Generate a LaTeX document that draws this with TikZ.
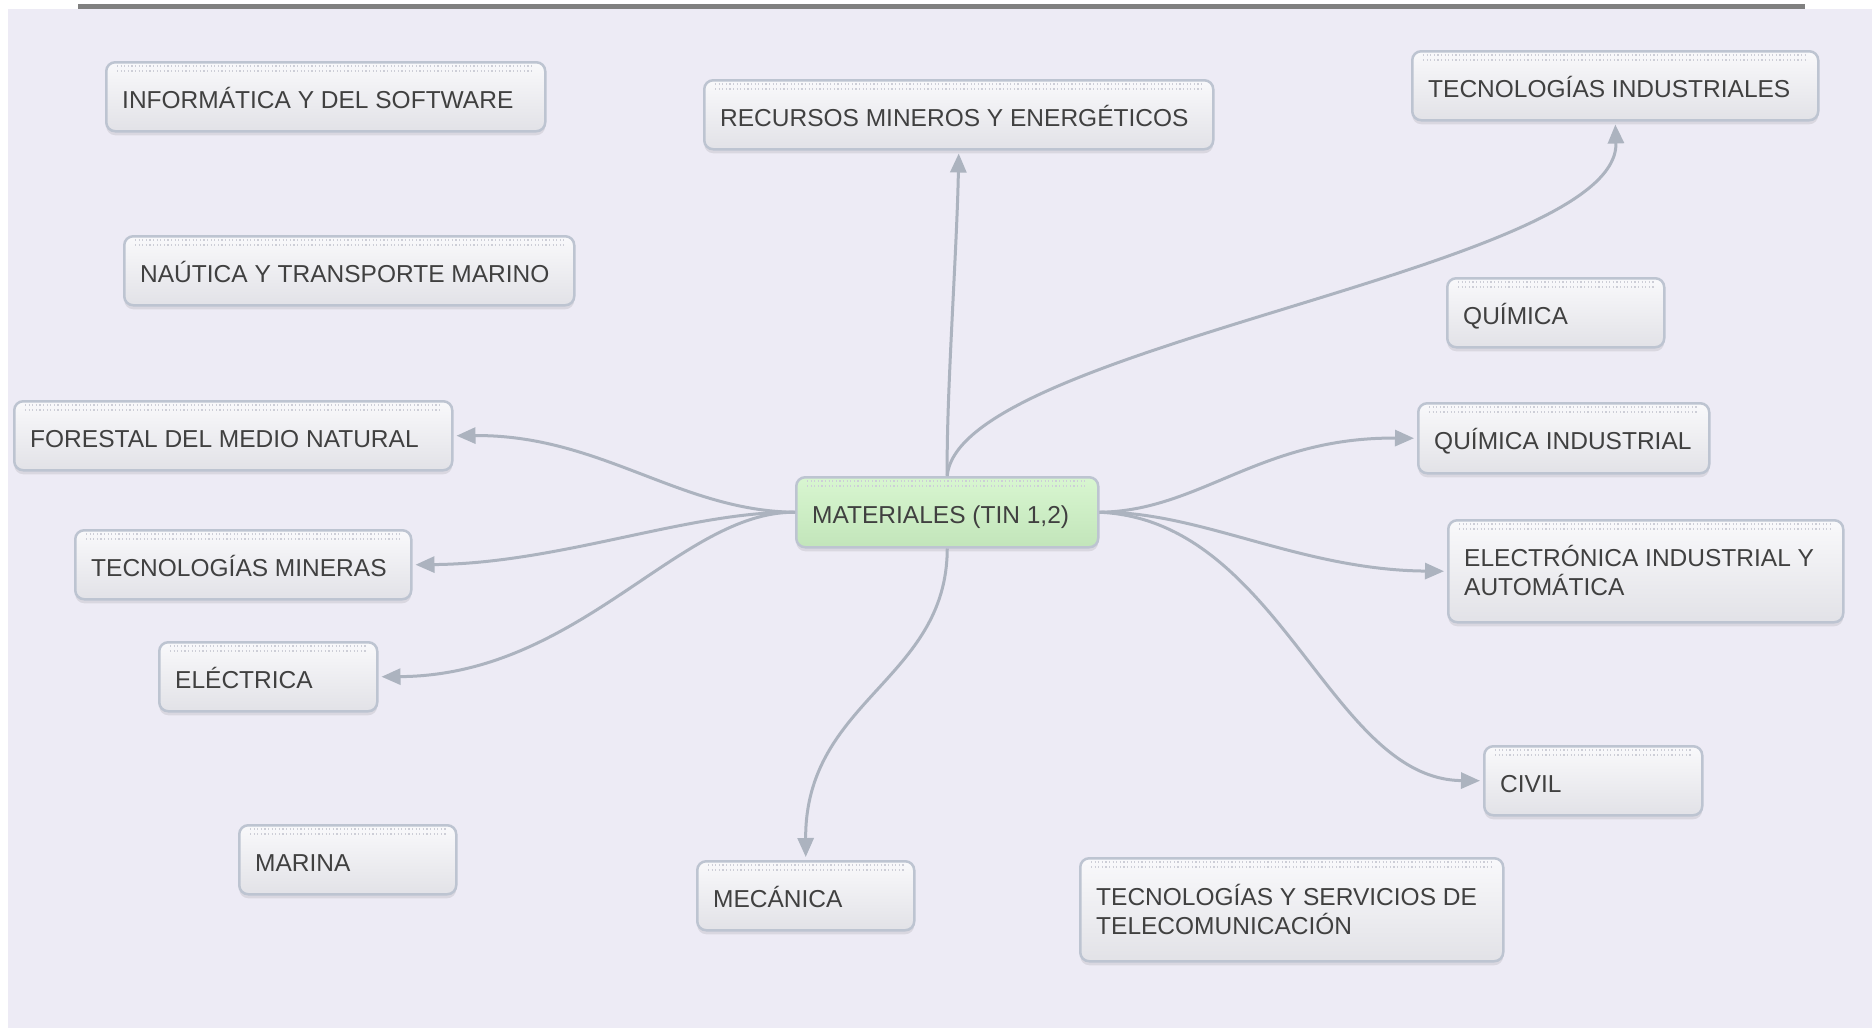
\documentclass[tikz,border=0pt]{standalone}
\usepackage{fontspec}
\setmainfont{Liberation Sans}
\usetikzlibrary{arrows.meta,shadows,calc}
\definecolor{bgc}{HTML}{EDEBF5}
\definecolor{edg}{HTML}{ACB3BF}
\definecolor{brd}{HTML}{BDC4D1}
\definecolor{boxtop}{HTML}{F9F9FB}
\definecolor{boxbot}{HTML}{E2E2E7}
\definecolor{grtop}{HTML}{D8F6D0}
\definecolor{grbot}{HTML}{C2E5BA}
\definecolor{txt}{HTML}{404040}
\definecolor{dotc}{HTML}{CDCED7}
\definecolor{topbar}{HTML}{808080}
\tikzset{
  box/.style={draw=brd, line width=2.5pt, rounded corners=9pt, top color=boxtop, bottom color=boxbot,
    anchor=north west, inner sep=0pt,
    drop shadow={shadow xshift=0pt, shadow yshift=-4pt, opacity=0.12, fill=black!70}},
  matbox/.style={box, top color=grtop, bottom color=grbot},
  lbl/.style={anchor=base west, inner sep=0pt, text=txt, font=\fontsize{24.5}{29}\selectfont},
  conn/.style={draw=edg, line width=3pt, -{Triangle[length=19pt,width=16pt]}, shorten >=3pt},
  dots/.style={draw=dotc, line width=1.2pt, dash pattern=on 1.2pt off 2.4pt},
}
\newcommand\dotstrip[1]{%
  \draw[dots] ($(#1.north west)+(12,5)$) -- ($(#1.north east)+(-12,5)$);
  \draw[dots] ($(#1.north west)+(12,10)$) -- ($(#1.north east)+(-12,10)$);}
\begin{document}
\begin{tikzpicture}[x=1pt,y=-1pt]
\useasboundingbox (0,0) rectangle (1872,1028);
\fill[white] (0,0) rectangle (1872,1028);
\fill[bgc] (8,9) rectangle (1872,1028);
\fill[topbar] (78,4) rectangle (1805,9);

% boxes
\node[box, minimum width=439pt, minimum height=69pt] (inf) at (105,61) {};
\node[box, minimum width=509pt, minimum height=69pt] (rec) at (703,79) {};
\node[box, minimum width=406pt, minimum height=69pt] (tind) at (1411,50) {};
\node[box, minimum width=450pt, minimum height=69pt] (nau) at (123,235) {};
\node[box, minimum width=217pt, minimum height=69pt] (qui) at (1446,277) {};
\node[box, minimum width=438pt, minimum height=69pt] (for) at (13,400) {};
\node[box, minimum width=291pt, minimum height=70pt] (qind) at (1417,402) {};
\node[matbox, minimum width=302pt, minimum height=70pt] (mat) at (795,476) {};
\node[box, minimum width=336pt, minimum height=69pt] (tmin) at (74,529) {};
\node[box, minimum width=395pt, minimum height=102pt] (elec) at (1447,519) {};
\node[box, minimum width=218pt, minimum height=69pt] (ele) at (158,641) {};
\node[box, minimum width=218pt, minimum height=69pt] (civ) at (1483,745) {};
\node[box, minimum width=217pt, minimum height=69pt] (mar) at (238,824) {};
\node[box, minimum width=217pt, minimum height=69pt] (mec) at (696,860) {};
\node[box, minimum width=423pt, minimum height=103pt] (tel) at (1079,857) {};

\dotstrip{inf}\dotstrip{rec}\dotstrip{tind}\dotstrip{nau}\dotstrip{qui}
\dotstrip{for}\dotstrip{qind}\dotstrip{mat}\dotstrip{tmin}\dotstrip{elec}
\dotstrip{ele}\dotstrip{civ}\dotstrip{mar}\dotstrip{mec}\dotstrip{tel}

% labels
\node[lbl] (infT) at ($(inf.north west)+(17,47)$) {INFORMÁTICA Y DEL SOFTWARE};
\node[lbl] (recT) at ($(rec.north west)+(17,47)$) {RECURSOS MINEROS Y ENERGÉTICOS};
\node[lbl] (tindT) at ($(tind.north west)+(17,47)$) {TECNOLOGÍAS INDUSTRIALES};
\node[lbl] (nauT) at ($(nau.north west)+(17,47)$) {NAÚTICA Y TRANSPORTE MARINO};
\node[lbl] (quiT) at ($(qui.north west)+(17,47)$) {QUÍMICA};
\node[lbl] (forT) at ($(for.north west)+(17,47)$) {FORESTAL DEL MEDIO NATURAL};
\node[lbl] (qindT) at ($(qind.north west)+(17,47)$) {QUÍMICA INDUSTRIAL};
\node[lbl] (matT) at ($(mat.north west)+(17,47)$) {MATERIALES (TIN 1,2)};
\node[lbl] (tminT) at ($(tmin.north west)+(17,47)$) {TECNOLOGÍAS MINERAS};
\node[lbl] (elecT1) at ($(elec.north west)+(17,47)$) {ELECTRÓNICA INDUSTRIAL Y};
\node[lbl] (elecT2) at ($(elec.north west)+(17,76)$) {AUTOMÁTICA};
\node[lbl] (eleT) at ($(ele.north west)+(17,47)$) {ELÉCTRICA};
\node[lbl] (civT) at ($(civ.north west)+(17,47)$) {CIVIL};
\node[lbl] (marT) at ($(mar.north west)+(17,47)$) {MARINA};
\node[lbl] (mecT) at ($(mec.north west)+(17,47)$) {MECÁNICA};
\node[lbl] (telT1) at ($(tel.north west)+(17,48)$) {TECNOLOGÍAS Y SERVICIOS DE};
\node[lbl] (telT2) at ($(tel.north west)+(17,77)$) {TELECOMUNICACIÓN};

% connectors
\draw[conn] (mat.west) .. controls (680,511) and (600,434.5) .. (for.east);
\draw[conn] (mat.west) .. controls (690,511) and (560,563.5) .. (tmin.east);
\draw[conn] (mat.west) .. controls (680,511) and (580,675.5) .. (ele.east);
\draw[conn] (mat.east) .. controls (1200,511) and (1260,437) .. (qind.west);
\draw[conn] (mat.east) .. controls (1200,511) and (1300,570) .. (elec.west);
\draw[conn] (mat.east) .. controls (1280,520) and (1330,779.5) .. (civ.west);
\draw[conn] (mat.north) .. controls (946,400) and (957,250) .. (rec.south);
\draw[conn] (mat.north) .. controls (958,345) and (1620,270) .. (tind.south);
\draw[conn] (mat.south) .. controls (947,680) and (805,700) .. (mec.north);
\end{tikzpicture}
\end{document}
